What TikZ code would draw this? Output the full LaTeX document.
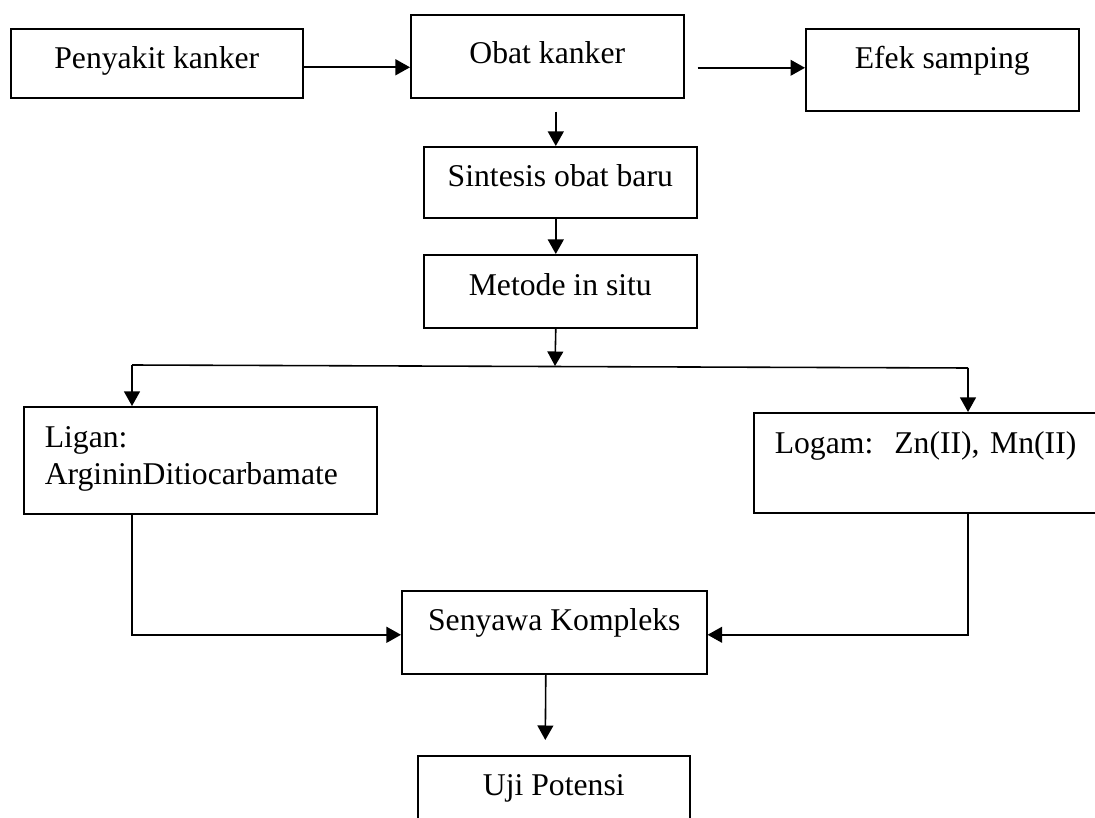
\documentclass[tikz,border=0pt]{standalone}
\usepackage{fontspec}
\setmainfont{Liberation Serif}
\usetikzlibrary{arrows.meta}
\newlength\pxu
\setlength\pxu{0.379pt}
\tikzset{
  flowbox/.style={draw,line width=0.6pt,anchor=north west,inner xsep=0pt,inner ysep=0pt,
    align=center,font=\fontsize{12}{14}\selectfont},
  sidebox/.style={flowbox,align=left,inner xsep=21\pxu},
  arrow/.style={-{Triangle[length=5.5pt,width=6pt]},line width=0.6pt},
  link/.style={line width=0.6pt}
}
\begin{document}
\begin{tikzpicture}[x=0.379pt,y=-0.379pt]
\useasboundingbox (0,0) rectangle (1095,818);
\clip (0,0) rectangle (1095,818);

\node[flowbox,minimum width=292\pxu,text height=40\pxu,text depth=29\pxu] (penyakit) at (10,28) {Penyakit kanker};
\node[flowbox,minimum width=273\pxu,text height=49\pxu,text depth=34\pxu] (obat) at (410,14) {Obat kanker};
\node[flowbox,minimum width=273\pxu,text height=40\pxu,text depth=42\pxu] (efek) at (805,28) {Efek samping};
\node[flowbox,minimum width=273\pxu,text height=40\pxu,text depth=31\pxu] (sintesis) at (423,146) {Sintesis obat baru};
\node[flowbox,minimum width=273\pxu,text height=41\pxu,text depth=32\pxu] (metode) at (423,254) {Metode in situ};
\node[sidebox,text width=311\pxu,text height=41\pxu,text depth=66\pxu] (ligan) at (23,406) {Ligan:\\ArgininDitiocarbamate};
\node[sidebox,text width=320\pxu,text height=41\pxu,text depth=59\pxu] (logam) at (753,412) {Logam:\ \ Zn(II), Mn(II)};
\node[flowbox,minimum width=305\pxu,text height=40\pxu,text depth=43\pxu] (senyawa) at (401,590) {Senyawa Kompleks};
\node[flowbox,minimum width=272\pxu,text height=40\pxu,text depth=43\pxu] (uji) at (417,755) {Uji Potensi};

\coordinate (kiri) at (132,365);
\coordinate (kanan) at (968,368);
\coordinate (cabang) at (555,366);

\draw[arrow] ([yshift=-4\pxu]penyakit.east) coordinate (p) -- (p -| obat.west);
\draw[arrow] ([xshift=13\pxu,yshift=-11.5\pxu]obat.east) coordinate (o) -- (o -| efek.west);
\draw[arrow] ([xshift=8.5\pxu,yshift=-13\pxu]obat.south) -- ([xshift=-4.5\pxu]sintesis.north);
\draw[arrow] ([xshift=-4.5\pxu]sintesis.south) -- ([xshift=-4.5\pxu]metode.north);
\draw[arrow] ([xshift=-4.5\pxu]metode.south) -- (cabang);
\draw[link] (kiri) -- (kanan);
\draw[arrow] (kiri) -- (kiri |- ligan.north);
\draw[arrow] (kanan) -- (kanan |- logam.north);
\draw[arrow] (ligan.south -| kiri) |- ([yshift=-2.5\pxu]senyawa.west);
\draw[arrow] (logam.south -| kanan) |- ([yshift=-2.5\pxu]senyawa.east);
\draw[arrow] ([xshift=-8.5\pxu]senyawa.south) -- ([xshift=-8.5\pxu,yshift=15\pxu]uji.north);
\end{tikzpicture}
\end{document}
